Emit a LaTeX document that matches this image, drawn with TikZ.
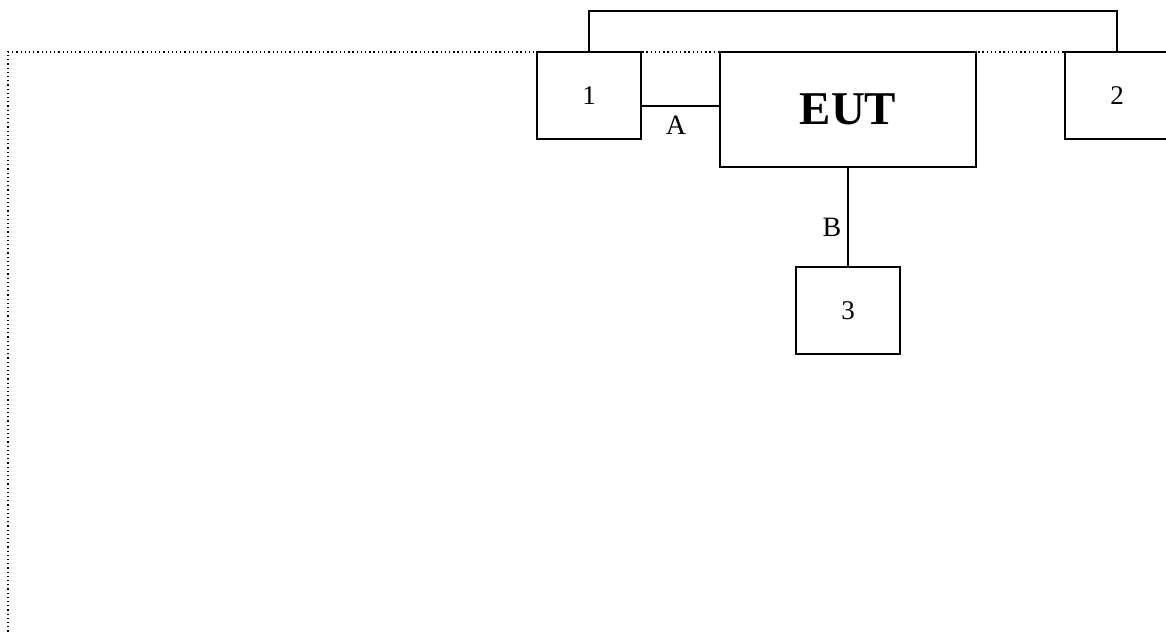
\documentclass[tikz,border=0pt]{standalone}
\usepackage{fontspec}
\setmainfont{Liberation Serif}
\begin{document}
\begin{tikzpicture}[x=1pt,y=-1pt,
  box/.style={draw,line width=1.8pt,fill=white,minimum width=104pt,minimum height=87pt,inner sep=0pt,font=\fontsize{27}{27}\selectfont},
  wire/.style={line width=1.8pt},
  lbl/.style={inner sep=0pt,font=\fontsize{28}{28}\selectfont},
  border/.style={line width=1.2pt,dash pattern=on 1.3pt off 2.9pt}]
\clip (0,0) rectangle (1166,633);
\fill[white] (0,0) rectangle (1166,633);
\draw[border] (8,640) -- (8,52) -- (1170,52);
\node[box] (b1) at (589,95.5) {1};
\node[box] (b2) at (1117,95.5) {2};
\node[box,minimum width=256pt,minimum height=115pt,font=\fontsize{47}{47}\selectfont\bfseries] (eut) at (848,109.5) {\raisebox{-4pt}{EUT}};
\node[box] (b3) at (848,310.5) {3};
\draw[wire] ([yshift=-10.5pt]b1.east) -- ([yshift=-10.5pt]b1.east -| eut.west);
\draw[wire] (b1.north) |- (b2.north |- 0,11) -- (b2.north);
\draw[wire] (eut.south) -- (eut.south |- b3.north);
\node[lbl] (la) at (676,125) {A};
\node[lbl] (lb) at (832,227) {B};
\end{tikzpicture}
\end{document}
